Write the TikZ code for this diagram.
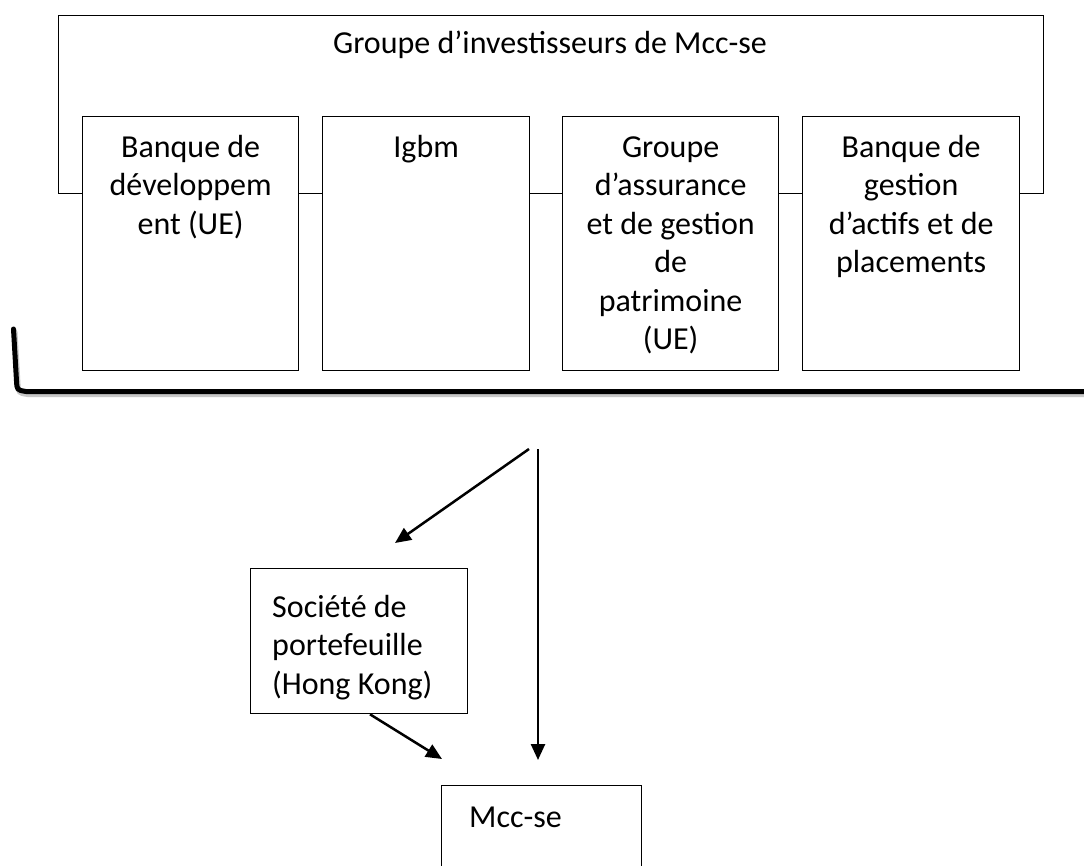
\documentclass[tikz,border=0pt]{standalone}
\usepackage{fontspec}
\setmainfont{Carlito}
\usetikzlibrary{arrows.meta,calc}
\begin{document}
\begin{tikzpicture}[x=1pt,y=-1pt,
  box/.style={draw=black, line width=1.3pt, fill=white, inner sep=0pt, anchor=north west},
  txt/.style={font=\fontsize{32}{38.5}\selectfont, inner sep=0pt, align=center, anchor=north},
  arr/.style={line width=2.5pt, -{Triangle[length=16pt,width=14pt]}},
  bracket/.style={line width=5pt, line cap=round, line join=round}]
\useasboundingbox (0,0) rectangle (1084,865);
\clip (0,0) rectangle (1084,865);
\fill[white] (0,0) rectangle (1084,865);
% outer group frame
\node[box, minimum width=985pt, minimum height=178pt] (g) at (58,15) {};
\node[txt, anchor=base] (gt) at (550,53) {Groupe d’investisseurs de Mcc-se};
% member boxes
\node[box, minimum width=216pt, minimum height=254pt] (b1) at (82,116) {};
\node[box, minimum width=207pt, minimum height=254pt] (b2) at (322,116) {};
\node[box, minimum width=216pt, minimum height=254pt] (b3) at (562,116) {};
\node[box, minimum width=217pt, minimum height=254pt] (b4) at (802,116) {};
\node[txt] (t1) at ($(b1.north)+(0,14)$) {\strut Banque de\\développem\\ent (UE)};
\node[txt] (t2) at ($(b2.north)+(0,14)$) {\strut Igbm};
\node[txt] (t3) at ($(b3.north)+(0,14)$) {\strut Groupe\\d’assurance\\et de gestion\\de\\patrimoine\\(UE)};
\node[txt] (t4) at ($(b4.north)+(0,14)$) {\strut Banque de\\gestion\\d’actifs et de\\placements};
% bracket
\draw[bracket, black!22, shift={(1.5,3)}] (13.5,329) -- (16.5,381) .. controls (17,390) .. (26,391.5) -- (1100,391.5);
\draw[bracket] (13.5,329) -- (16.5,381) .. controls (17,390) .. (26,391.5) -- (1100,391.5);
% lower boxes
\node[box, minimum width=217pt, minimum height=145pt] (s) at (250,568) {};
\node[txt, align=left, anchor=north west] (st) at (272,590) {\strut Société de\\portefeuille\\(Hong Kong)};
\node[box, minimum width=200pt, minimum height=150pt] (m) at (441,785) {};
\node[txt, anchor=base west] (mt) at (469,827) {Mcc-se};
% arrows
\coordinate (a0) at (529,449);
\coordinate (a1) at (395,543);
\coordinate (v0) at (538,449);
\coordinate (v1) at (538,760);
\coordinate (h0) at ($(s.south west)+(120,0)$);
\coordinate (h1) at (442,759);
\draw[arr] (a0) -- (a1);
\draw[arr] (v0) -- (v1);
\draw[arr] (h0) -- (h1);
\end{tikzpicture}
\end{document}
